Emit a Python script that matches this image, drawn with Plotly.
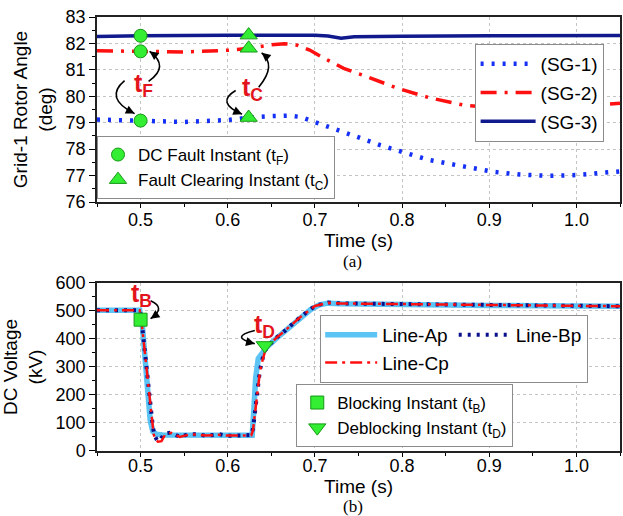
import numpy as np
import plotly.graph_objects as go

# ---------------- (a) Grid-1 rotor angles (deg) ----------------
t_sg1 = [0.45, 0.50, 0.55, 0.60, 0.625, 0.65, 0.67, 0.683, 0.706, 0.725, 0.748,
         0.775, 0.80, 0.83, 0.865, 0.905, 0.935, 0.97, 1.0, 1.025, 1.05]
sg1 = [79.12, 79.08, 79.03, 79.10, 79.20, 79.25, 79.27, 79.22, 78.97, 78.72, 78.47,
       78.15, 77.92, 77.60, 77.38, 77.14, 77.04, 76.99, 77.02, 77.08, 77.16]

t_sg2 = [0.45, 0.50, 0.55, 0.60, 0.625, 0.65, 0.665, 0.68, 0.694, 0.71, 0.733,
         0.76, 0.795, 0.832, 0.87, 0.90, 0.93, 0.96, 1.0, 1.03, 1.05]
sg2 = [81.72, 81.70, 81.68, 81.74, 81.82, 81.95, 81.99, 81.93, 81.75, 81.45, 81.06,
       80.74, 80.30, 79.94, 79.67, 79.58, 79.56, 79.58, 79.63, 79.69, 79.74]

t_sg3 = [0.45, 0.50, 0.60, 0.65, 0.68, 0.70, 0.715, 0.73, 0.745, 0.76, 0.80,
         0.90, 1.0, 1.05]
sg3 = [82.26, 82.29, 82.31, 82.32, 82.30, 82.31, 82.28, 82.20, 82.25, 82.26, 82.27,
       82.29, 82.30, 82.30]

t_fault = 0.5        # DC fault instant
t_clear = 0.624      # fault clearing instant

# ---------------- (b) DC voltage (kV) ----------------
t_ap = [0.45, 0.499, 0.502, 0.505, 0.508, 0.511, 0.514, 0.518, 0.525, 0.55, 0.60,
        0.628, 0.630, 0.632, 0.635, 0.640, 0.645, 0.655, 0.665, 0.68, 0.695, 0.705,
        0.715, 0.73, 0.80, 0.90, 1.0, 1.05]
line_ap = [503, 503, 450, 330, 200, 110, 70, 60, 57, 56, 55,
           56, 150, 260, 330, 355, 372, 400, 425, 465, 505, 522,
           528, 526, 522, 520, 518, 517]

t_bp = [0.45, 0.499, 0.501, 0.503, 0.5045, 0.506, 0.507, 0.508, 0.509, 0.510, 0.511,
        0.513, 0.514, 0.516, 0.519, 0.522, 0.527, 0.535, 0.545, 0.555, 0.565, 0.575,
        0.59, 0.60, 0.615, 0.627, 0.629, 0.631, 0.633, 0.635, 0.637, 0.640, 0.643,
        0.648, 0.656, 0.665, 0.682, 0.70, 0.715, 0.73, 0.76, 0.80, 0.90, 1.0, 1.05]
line_bp = [503, 503, 470, 410, 370, 330, 300, 260, 230, 190, 155,
           120, 88, 55, 38, 36, 62, 66, 50, 60, 60, 54,
           60, 54, 57, 57, 80, 140, 190, 250, 290, 330, 360,
           380, 405, 428, 475, 518, 530, 527, 526, 524, 521, 518, 517]

t_cp = [0.45, 0.499, 0.501, 0.503, 0.505, 0.507, 0.509, 0.511, 0.513, 0.515, 0.517,
        0.520, 0.524, 0.528, 0.535, 0.545, 0.555, 0.565, 0.575, 0.59, 0.60, 0.615,
        0.627, 0.629, 0.631, 0.633, 0.635, 0.637, 0.640, 0.643, 0.648, 0.656, 0.665,
        0.682, 0.70, 0.715, 0.73, 0.76, 0.80, 0.90, 1.0, 1.05]
line_cp = [503, 503, 465, 405, 340, 285, 225, 160, 110, 60, 40,
           33, 35, 58, 65, 50, 58, 59, 55, 58, 55, 56,
           56, 75, 130, 185, 245, 285, 325, 358, 380, 405, 428,
           475, 518, 529, 527, 526, 524, 521, 518, 517]

t_block, v_block = [0.5], [469]
t_deblock, v_deblock = [0.6425], [377]

FONT = "Liberation Sans, Arial, sans-serif"
RED = "#E3141C"
GREEN = "#33EE33"
GREEN_EDGE = "#169916"

fig = go.Figure()

# ---- rotor angle traces ----
fig.add_trace(go.Scatter(x=t_sg1, y=sg1, mode="lines", name="(SG-1)",
                         line=dict(color="#1530F5", width=4.5, dash="3px,8px"),
                         xaxis="x", yaxis="y", legend="legend", legendgroup="s1"))
fig.add_trace(go.Scatter(x=t_sg2, y=sg2, mode="lines", name="(SG-2)",
                         line=dict(color="#FF1010", width=3.5, dash="16px,8px,3px,8px"),
                         xaxis="x", yaxis="y", legend="legend", legendgroup="s2"))
fig.add_trace(go.Scatter(x=t_sg3, y=sg3, mode="lines", name="(SG-3)",
                         line=dict(color="#101A8C", width=3.5),
                         xaxis="x", yaxis="y", legend="legend", legendgroup="s3"))

series_top = [(t_sg3, sg3), (t_sg2, sg2), (t_sg1, sg1)]
fault_y = [float(np.interp(t_fault, t, v)) for t, v in series_top]
clear_y = [float(np.interp(t_clear, t, v)) for t, v in series_top]

fig.add_trace(go.Scatter(x=[t_fault] * 3, y=fault_y, mode="markers",
                         name="DC Fault Instant (t<sub>F</sub>)",
                         marker=dict(symbol="circle", size=13, color=GREEN,
                                     line=dict(color=GREEN_EDGE, width=1)),
                         xaxis="x", yaxis="y", legend="legend2"))
fig.add_trace(go.Scatter(x=[t_clear] * 3, y=clear_y, mode="markers",
                         name="Fault Clearing Instant (t<sub>C</sub>)",
                         marker=dict(symbol="triangle-up", size=15, color=GREEN,
                                     line=dict(color=GREEN_EDGE, width=1)),
                         xaxis="x", yaxis="y", legend="legend2"))

# ---- DC voltage traces ----
fig.add_trace(go.Scatter(x=t_ap, y=line_ap, mode="lines", name="Line-Ap",
                         line=dict(color="#5CC3F5", width=5.5),
                         xaxis="x2", yaxis="y2", legend="legend3", legendgroup="g1"))
fig.add_trace(go.Scatter(x=t_bp, y=line_bp, mode="lines", name="Line-Bp",
                         line=dict(color="#0A0F8C", width=4, dash="3px,6px"),
                         xaxis="x2", yaxis="y2", legend="legend3", legendgroup="g2"))
fig.add_trace(go.Scatter(x=t_cp, y=line_cp, mode="lines", name="Line-Cp",
                         line=dict(color="#FF1010", width=2.5, dash="12px,5px,3px,5px"),
                         xaxis="x2", yaxis="y2", legend="legend3", legendgroup="g1"))

fig.add_trace(go.Scatter(x=t_block, y=v_block, mode="markers",
                         name="Blocking Instant (t<sub>B</sub>)",
                         marker=dict(symbol="square", size=13, color=GREEN,
                                     line=dict(color=GREEN_EDGE, width=1)),
                         xaxis="x2", yaxis="y2", legend="legend4"))
fig.add_trace(go.Scatter(x=t_deblock, y=v_deblock, mode="markers",
                         name="Deblocking Instant (t<sub>D</sub>)",
                         marker=dict(symbol="triangle-down", size=15, color=GREEN,
                                     line=dict(color=GREEN_EDGE, width=1)),
                         xaxis="x2", yaxis="y2", legend="legend4"))

# ---- curved pointer arrows (pixel offsets around an anchor mark) ----
def curved_arrow(xr, yr, x0, y0, p0, c, p2, head_len=8):
    fig.add_shape(type="path", xref=xr, yref=yr, xsizemode="pixel", ysizemode="pixel",
                  xanchor=x0, yanchor=y0,
                  path=f"M{p0[0]},{p0[1]} Q{c[0]},{c[1]} {p2[0]},{p2[1]}",
                  line=dict(color="black", width=1.6))
    dx, dy = p2[0] - c[0], p2[1] - c[1]
    n = (dx * dx + dy * dy) ** 0.5
    fig.add_annotation(xref=xr, yref=yr, x=x0, y=y0, xshift=p2[0], yshift=p2[1],
                       text="", showarrow=True, arrowhead=2, arrowsize=1.1,
                       arrowwidth=1.6, arrowcolor="black", standoff=0,
                       ax=-dx / n * head_len, ay=dy / n * head_len)


def label(xr, yr, x0, y0, txt, dx, dy):
    fig.add_annotation(xref=xr, yref=yr, x=x0, y=y0, xshift=dx, yshift=dy,
                       text=f"<b>{txt}</b>", showarrow=False,
                       font=dict(family=FONT, size=25, color=RED))


curved_arrow("x", "y", t_fault, fault_y[1], (8, -30), (29.5, -15), (9, 0))
curved_arrow("x", "y", t_fault, fault_y[2], (-16, 40), (-37, 22.5), (-6, 7))
label("x", "y", t_fault, fault_y[2], "t<sub>F</sub>", 3, 36)

curved_arrow("x", "y", t_clear, clear_y[1], (10, -39), (28.3, -17), (13, -4.5))
curved_arrow("x", "y", t_clear, clear_y[2], (-13, 27), (-33.4, 15), (-6.6, 3.4))
label("x", "y", t_clear, clear_y[2], "t<sub>C</sub>", 4, 29)

curved_arrow("x2", "y2", t_block[0], v_block[0], (10, 19), (26, 12), (10, 1))
label("x2", "y2", t_block[0], v_block[0], "t<sub>B</sub>", 1, 25)

curved_arrow("x2", "y2", t_deblock[0], v_deblock[0], (-10, 15), (-36.6, 8.3), (-10, 1.7))
label("x2", "y2", t_deblock[0], v_deblock[0], "t<sub>D</sub>", 0, 19)

# ---- panel captions ----
for txt, yy in [("(a)", 0.4355), ("(b)", -0.129)]:
    fig.add_annotation(xref="paper", yref="paper", x=0.489, y=yy, text=txt,
                       showarrow=False, xanchor="center", yanchor="middle",
                       borderpad=0,
                       font=dict(family="Liberation Serif, Times New Roman, serif",
                                 size=17, color="black"))

# ---- axes ----
tickfont = dict(family=FONT, size=18, color="black")
titlefont = dict(family=FONT, size=19, color="black")
common_x = dict(range=[0.45, 1.05], tickvals=[0.5, 0.6, 0.7, 0.8, 0.9, 1.0],
                ticktext=["0.5", "0.6", "0.7", "0.8", "0.9", "1.0"],
                ticks="outside", ticklen=4, tickwidth=1.2, tickcolor="black",
                minor=dict(dtick=0.05, tick0=0.45, ticks="outside", ticklen=3,
                           tickcolor="black", showgrid=False),
                showline=True, linecolor="#222", linewidth=1.5, mirror=True,
                showgrid=True, gridcolor="#c4c4c4", griddash="dot", gridwidth=1,
                zeroline=False, tickfont=tickfont,
                title=dict(text="Time (s)", font=titlefont, standoff=0))
common_y = dict(ticks="outside", ticklen=6, tickwidth=1.2, tickcolor="black",
                showline=True, linecolor="#222", linewidth=1.5, mirror=True,
                showgrid=True, gridcolor="#c4c4c4", griddash="dot", gridwidth=1,
                zeroline=False, tickfont=tickfont)

fig.update_layout(
    width=623, height=516,
    margin=dict(l=97, r=1, t=17, b=65),
    paper_bgcolor="white", plot_bgcolor="white",
    font=dict(family=FONT, color="black"),
    xaxis=dict(anchor="y", ticklabelstandoff=-3, **common_x),
    xaxis2=dict(anchor="y2", ticklabelstandoff=-6, **common_x),
    yaxis=dict(domain=[0.5737, 1.0], range=[76, 83], dtick=1,
               minor=dict(dtick=0.5, ticks="outside", ticklen=3, tickcolor="black",
                          showgrid=False),
               title=dict(text="Grid-1 Rotor Angle<br>(deg)", font=titlefont, standoff=8),
               **common_y),
    yaxis2=dict(domain=[0.0, 0.3871], range=[0, 600], dtick=100,
                minor=dict(dtick=50, ticks="outside", ticklen=3, tickcolor="black",
                           showgrid=False),
                title=dict(text="DC Voltage<br>(kV)", font=titlefont, standoff=8),
                **common_y),
    legend=dict(x=0.722, y=0.938, xanchor="left", yanchor="top",
                bgcolor="white", bordercolor="#8c8c8c", borderwidth=1,
                font=dict(family=FONT, size=19), itemwidth=55,
                tracegroupgap=1, traceorder="grouped"),
    legend2=dict(x=0.0, y=0.7258, xanchor="left", yanchor="top",
                 bgcolor="white", bordercolor="#8c8c8c", borderwidth=1,
                 font=dict(family=FONT, size=17), itemwidth=30),
    legend3=dict(x=0.4267, y=0.3134, xanchor="left", yanchor="top",
                 orientation="h", traceorder="grouped",
                 bgcolor="white", bordercolor="#8c8c8c", borderwidth=1,
                 font=dict(family=FONT, size=19), itemwidth=52),
    legend4=dict(x=0.381, y=0.1544, xanchor="left", yanchor="top",
                 bgcolor="white", bordercolor="#8c8c8c", borderwidth=1,
                 font=dict(family=FONT, size=17), itemwidth=30),
)

fig.write_html("out.html")
